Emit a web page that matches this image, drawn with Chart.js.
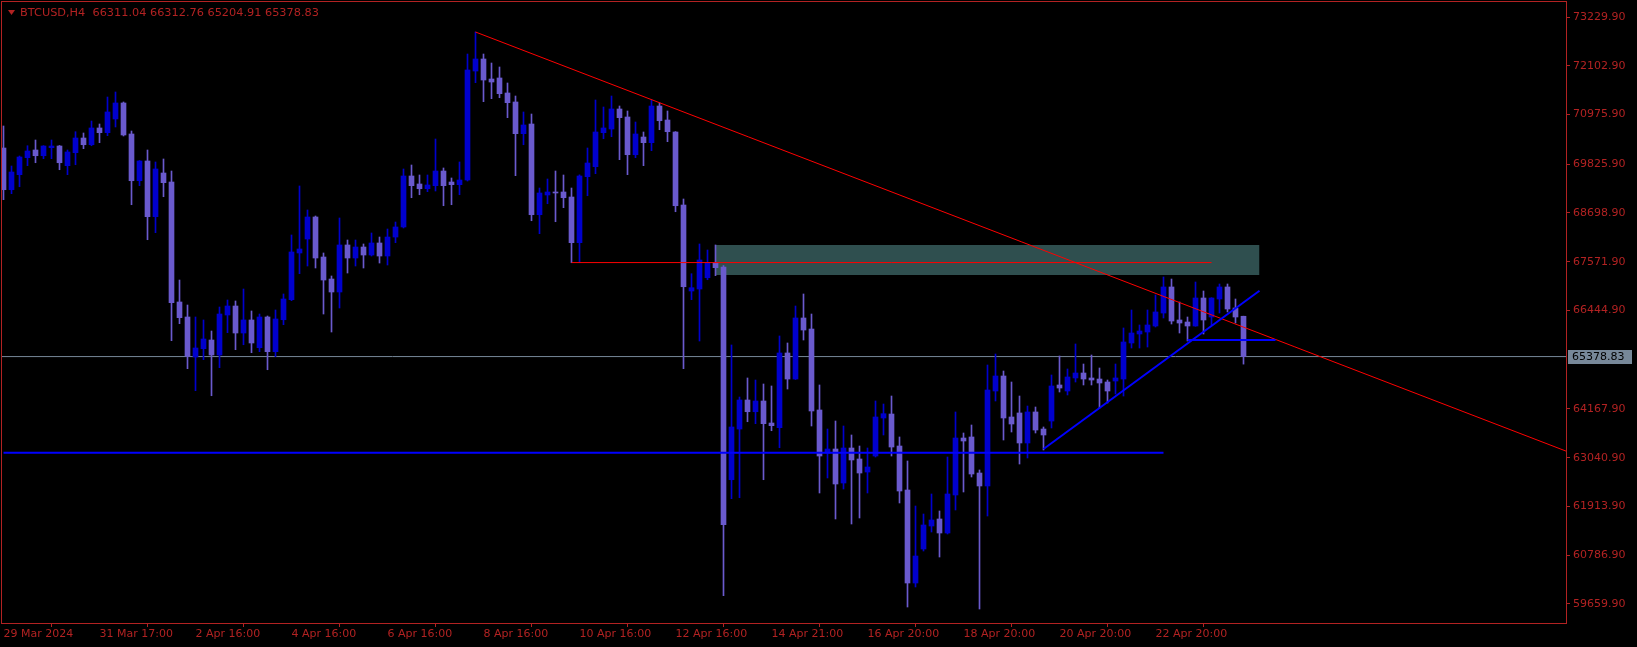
<!DOCTYPE html>
<html>
<head>
<meta charset="utf-8">
<script src="https://cdn.jsdelivr.net/npm/chart.js@4.4.1/dist/chart.umd.min.js"></script>
<style>
html,body{margin:0;padding:0;background:#000;}
#wrap{width:1637px;height:647px;position:relative;}
</style>
</head>
<body>
<div id="wrap"><canvas id="btcChart" width="1637" height="647"></canvas></div>
<script>
// BTCUSD H4 candles, index 0 = 29 Mar 2024
const opens = [70201,69237,69584,69977,70155,70023,70208,70247,69792,70093,70432,70277,70664,70555,70872,71242,70525,69445,69901,68613,
69623,69415,66641,66294,65369,65561,65762,65415,66340,66548,65924,66225,65584,66294,65492,66231,66694,67774,68097,68606,
67681,67172,66872,67959,67658,67912,67727,68005,67704,68143,68375,69554,69369,69260,69330,69669,69415,69353,69461,71981,
72259,71796,71820,71473,71265,70532,70756,68659,69115,69184,69184,69068,68012,69538,69769,70555,70640,71103,70918,70046,
70455,70324,71172,70848,70571,68883,66895,66941,67202,67542,67450,62532,63704,64375,64104,64352,63843,63735,65462,64860,
66271,66016,64144,63150,63242,62456,63265,63011,62710,63080,63959,64051,63311,62294,60144,60930,61462,61624,61300,62179,
63496,63520,62687,62387,64583,64930,63982,64075,63381,64098,63704,63889,64722,64583,64884,64999,64884,64860,64791,64814,
64860,65693,65901,65947,66086,66386,66988,66225,66178,66086,66733,66294,66710,66988,66502,66311.04];
const highs = [70710,69785,70016,70254,70386,70255,70386,70260,70155,70578,70548,70825,70756,71380,71496,71265,70594,69910,70155,69878,
69947,69669,67149,66571,66294,66225,65970,66525,66687,66664,66941,66433,66363,66317,66456,66826,68190,69323,68768,68629,
67774,67242,68583,68074,68074,67982,68236,68143,68328,68490,69716,69808,69577,69577,70409,69739,69508,69878,72374,72883,
72374,72166,72074,71704,71403,71034,70987,69276,69484,69669,69577,69276,69580,70201,71311,71149,71403,71172,71057,70802,
70571,71311,71242,71057,70580,69022,67295,67982,67843,67959,67480,65647,64444,64884,64837,64745,64699,65855,65693,66548,
66826,66363,64722,63704,63889,63774,63566,63311,63265,64352,64282,64467,63520,62965,61924,61739,62202,61809,63057,64098,
63612,63797,62757,65184,65438,65045,64791,64467,64236,64213,63751,64953,65392,65092,65670,65207,65415,65115,64837,65207,
66040,66456,66109,66456,66803,67219,67172,66641,66294,67103,66895,66740,67057,67057,66710,66312.76];
const lows = [69006,69145,69306,69792,69861,69954,69954,69699,69584,69815,70185,70254,70324,70486,70687,70479,68890,69330,68081,68243,
69075,65746,66139,65099,64590,65307,64474,65122,65931,65538,65653,65469,65492,65075,65376,66116,66671,67295,67473,67427,
66363,65947,66502,67311,67473,67427,67704,67542,67496,68012,68352,69052,69121,69191,69207,68867,68890,69121,69438,71711,
71272,71341,71364,70902,69561,70277,68520,68220,68913,68497,68821,67549,67549,69098,69607,70416,70462,69931,69584,69977,
69792,70139,70624,70347,68728,65099,66694,65739,67156,67249,59850,62093,62116,63873,63827,62532,63665,63272,64629,64850,
65762,63774,62225,62572,61624,62317,61508,61647,62225,63057,63566,63080,61994,59589,60052,60884,61323,60745,61277,61832,
62248,62595,59543,61693,64352,63450,63635,62895,63034,63612,63219,63728,64560,64491,64791,64722,64722,64190,64306,64514,
64467,65577,65577,65600,66063,66271,66132,65924,65739,66080,65901,66109,66386,66410,66155,65204.91];
const closes = [69237,69646,69993,70132,70023,70247,70247,69861,70109,70432,70277,70664,70555,71034,71242,70502,69445,69901,68613,69716,
69399,66625,66278,65385,65577,65785,65415,66363,66548,65924,66225,65693,66294,65492,66248,66710,67797,67866,68606,67658,
67149,66872,67959,67658,67912,67727,68005,67704,68143,68375,69554,69330,69260,69346,69669,69330,69353,69461,72005,72259,
71773,71727,71457,71249,70532,70733,68659,69161,69184,69161,69052,68012,69554,69854,70571,70664,71103,70902,70046,70525,
70324,71172,70832,70578,68867,66994,66971,67612,67542,67434,61492,63751,64375,64104,64352,63827,63781,65462,64860,66271,
65993,64121,63080,63242,62433,63265,62988,62687,62826,63982,64058,63288,62271,60144,60768,61485,61601,61300,62202,63496,
63427,62664,62387,64606,64930,63959,63820,63381,64098,63681,63566,64699,64652,64907,64999,64860,64837,64768,64583,64884,
65716,65924,65970,66109,66410,66988,66201,66155,66086,66733,66225,66733,66988,66479,66294,65378.83];

const yTicks = [73229.90,72102.90,70975.90,69825.90,68698.90,67571.90,66444.90,64167.90,63040.90,61913.90,60786.90,59659.90];
const xTickIdx = [0,12,24,36,48,60,72,84,96,108,120,132,144];
const xLabels = ["29 Mar 2024","31 Mar 17:00","2 Apr 16:00","4 Apr 16:00","6 Apr 16:00","8 Apr 16:00","10 Apr 16:00",
"12 Apr 16:00","14 Apr 21:00","16 Apr 20:00","18 Apr 20:00","20 Apr 20:00","22 Apr 20:00"];
const titleText = "BTCUSD,H4  66311.04 66312.76 65204.91 65378.83";

// drawn objects (index, price)
const redTrend = [[59,72883],[196,63145]];
const redLevel = [[71,67552],[151,67552]];
const zoneTop = [[89,67958],[157,67958]];
const zoneBottom = [[89,67265],[157,67265]];
const blueLevel = [[0,63157],[145,63157]];
const blueTrend = [[130,63242],[157,66902]];
const blueShort = [[148,65760],[159,65760]];

const BULL = "#0000cd";
const BEAR = "#6a5acd";
const RED = "#b22222";
const FONT = "DejaVu Sans";

const last = closes[closes.length-1];
const pts = a => a.map(p => ({x:p[0], y:p[1]}));
const candleColor = c => closes[c.dataIndex] >= opens[c.dataIndex] ? BULL : BEAR;

function lineSet(points, color, width, order, extra){
  return Object.assign({
    type:'line', data:pts(points), borderColor:color, borderWidth:width,
    pointRadius:0, fill:false, order:order, tension:0
  }, extra || {});
}

const framePlugin = {
  id:'frame',
  afterDraw(chart){
    const ctx = chart.ctx, a = chart.chartArea;
    ctx.save();
    ctx.strokeStyle = RED;
    ctx.lineWidth = 1;
    ctx.strokeRect(a.left-0.5, a.top-0.5, a.right-a.left+1, a.bottom-a.top+1);
    // title
    ctx.fillStyle = RED;
    ctx.beginPath();
    ctx.moveTo(8,10); ctx.lineTo(15,10); ctx.lineTo(11.5,15); ctx.closePath();
    ctx.fill();
    ctx.font = "11.3px " + FONT;
    ctx.textBaseline = "middle";
    ctx.fillText(titleText, 20, 13);
    // bid label
    const y = chart.scales.y.getPixelForValue(last);
    ctx.font = "11px " + FONT;
    ctx.fillStyle = "#778899";
    ctx.fillRect(a.right+2, Math.round(y)-7, 64, 14);
    ctx.fillStyle = "#000";
    ctx.fillText(last.toFixed(2), a.right+6, Math.round(y));
    ctx.restore();
  }
};

new Chart(document.getElementById('btcChart'), {
  type:'bar',
  data:{
    datasets:[
      lineSet(zoneTop, 'rgba(0,0,0,0)', 0, 10, {fill:'+1', backgroundColor:'#2f4f4f'}),
      lineSet(zoneBottom, 'rgba(0,0,0,0)', 0, 10),
      lineSet([[-1,last],[200,last]], '#778899', 1, 9),
      {
        data: lows.map((l,i) => ({x:i, y:[l, highs[i]]})),
        backgroundColor:candleColor, barThickness:1, grouped:false, order:6
      },
      {
        data: opens.map((o,i) => ({x:i, y:[o, closes[i]]})),
        backgroundColor:candleColor, barThickness:5, grouped:false, order:5, minBarLength:1
      },
      lineSet(redLevel, '#ff0000', 1, 2),
      lineSet(redTrend, '#ff0000', 1, 2),
      lineSet(blueLevel, '#0000ff', 2, 1),
      lineSet(blueTrend, '#0000ff', 2, 1),
      lineSet(blueShort, '#0000ff', 2, 1)
    ]
  },
  options:{
    responsive:false,
    animation:false,
    layout:{padding:{top:2, left:2, right:0, bottom:0}},
    plugins:{legend:{display:false}, tooltip:{enabled:false}},
    scales:{
      x:{
        type:'linear', offset:false, min:-0.1875, max:195.3125,
        afterBuildTicks: s => { s.ticks = xTickIdx.map(v => ({value:v})); },
        afterFit: s => { s.height = 24; s.paddingLeft = 0; s.paddingRight = 0; },
        grid:{drawOnChartArea:false, drawTicks:true, tickLength:4, tickColor:RED},
        border:{display:false},
        ticks:{
          color:RED, font:{family:FONT, size:11}, align:'start', padding:1,
          autoSkip:false, maxRotation:0,
          callback: v => xLabels[xTickIdx.indexOf(v)]
        }
      },
      y:{
        type:'linear', position:'right', min:59219.2, max:73576.7,
        afterBuildTicks: s => { s.ticks = yTicks.map(v => ({value:v})); },
        afterFit: s => { s.width = 71; s.paddingTop = 0; s.paddingBottom = 0; },
        grid:{drawOnChartArea:false, drawTicks:true, tickLength:4, tickColor:RED},
        border:{display:false},
        ticks:{
          color:RED, font:{family:FONT, size:11}, padding:3,
          callback: v => v.toFixed(2)
        }
      }
    }
  },
  plugins:[framePlugin]
});
</script>
</body>
</html>
